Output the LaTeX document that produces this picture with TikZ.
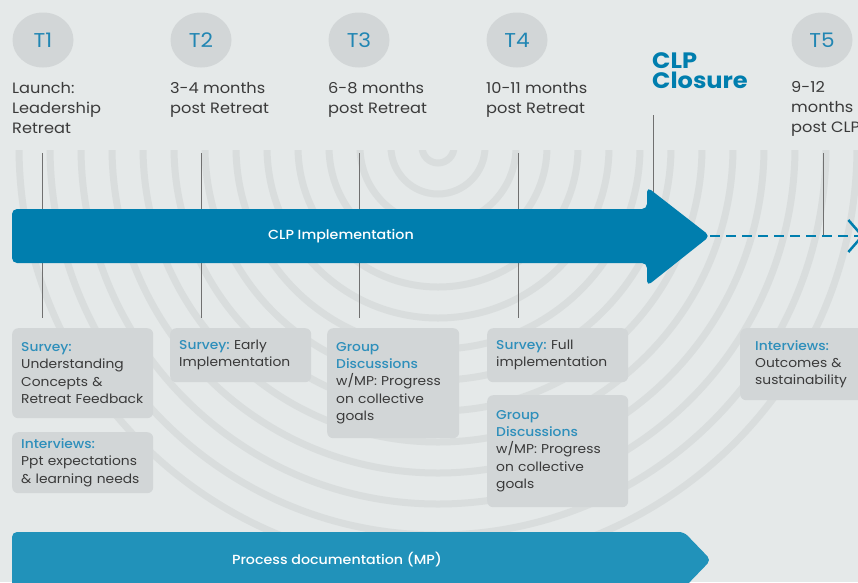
\documentclass[tikz,border=0pt]{standalone}
\usepackage{fontspec}
\setmainfont{Poppins}[FakeStretch=1.08]
\newfontfamily\popmed{Poppins Medium}[FakeStretch=1.08]
\usepackage{xcolor}
\usepackage{tikz}
\usetikzlibrary{positioning}
\usetikzlibrary{arrows.meta}
\usetikzlibrary{shapes.geometric}

\definecolor{bgc}{HTML}{E5E9E9}
\definecolor{ringc}{HTML}{D9DDDD}
\definecolor{circc}{HTML}{D2D6D7}
\definecolor{boxc}{HTML}{D2D6D7}
\definecolor{tblue}{HTML}{2186B3}
\definecolor{hblue}{HTML}{2E8FBB}
\definecolor{arrc}{HTML}{007EAE}
\definecolor{procc}{HTML}{2192BA}
\definecolor{txtc}{HTML}{3A3A3A}
\definecolor{tickc}{HTML}{707070}

\newcommand{\hd}[1]{{\popmed\color{hblue}#1}} % blue headings in the boxes
\frenchspacing

\begin{document}
\begin{tikzpicture}[x=1pt,y=-1pt]
  \tikzstyle{ring}=[draw=ringc, line width=7pt] % background ripples
  \tikzstyle{tcirc}=[ellipse, fill=circc, minimum width=61pt, minimum height=55pt, inner sep=0pt, text=tblue, font=\fontsize{20}{20}\selectfont]
  \tikzstyle{lbl}=[anchor=north west, inner sep=0pt, align=left, text=txtc, font=\fontsize{15}{20}\selectfont]
  \tikzstyle{box}=[anchor=north west, fill=boxc, rounded corners=6pt, inner xsep=9pt, inner ysep=0pt, align=left, text=txtc, font=\fontsize{12.8}{17.4}\selectfont]
  \tikzstyle{tick}=[draw=tickc, line width=1pt] % thin time marks
  \tikzstyle{bartxt}=[text=white, font=\popmed\fontsize{13.2}{14}\selectfont]
  \useasboundingbox (0,0) rectangle (858,582);
  \fill[bgc] (0,0) rectangle (858,582);
  \begin{scope}
    \clip (0,150) rectangle (858,582);
    \draw[ring] (438,147) circle (16pt) circle (47pt) circle (78pt) circle (109pt) circle (140pt)
      circle (171pt) circle (202pt) circle (233pt) circle (264pt) circle (295pt) circle (326pt)
      circle (357pt) circle (388pt) circle (419pt);
  \end{scope}
  % time points
  \node[tcirc] (t1) at (43,40) {T1};
  \node[tcirc] (t2) at (201,40) {T2};
  \node[tcirc] (t3) at (359,40) {T3};
  \node[tcirc] (t4) at (517,40) {T4};
  \node[tcirc] (t5) at (822,40) {T5};
  \node[lbl, below right=14pt and -31pt of t1.south] (l1) {Launch:\\Leadership\\Retreat};
  \node[lbl, below right=14pt and -31pt of t2.south] (l2) {3-4 months\\post Retreat};
  \node[lbl, below right=14pt and -31pt of t3.south] (l3) {6-8 months\\post Retreat};
  \node[lbl, below right=14pt and -31pt of t4.south] (l4) {10-11 months\\post Retreat};
  \node[lbl, below right=14pt and -31pt of t5.south] (l5) {9-12\\months\\post CLP};
  \node[lbl, text=arrc, font=\bfseries\fontsize{22.3}{20}\selectfont] (clp) at (652,52) {CLP\\Closure};
  % boxes
  \node[box, text width=123pt, minimum height=90pt] (s1) at (12,328) {\hd{Survey:}\\Understanding\\Concepts \&\\Retreat Feedback};
  \node[box, text width=123pt, minimum height=61pt] (i1) at (12,432) {\hd{Interviews:}\\Ppt expectations\\\& learning needs};
  \node[box, text width=123pt, minimum height=54pt] (s2) at (170,328) {\hd{Survey:} Early\\Implementation};
  \node[box, text width=114pt, minimum height=110pt] (g3) at (327,328) {\hd{Group\\Discussions}\\w/MP: Progress\\on collective\\goals};
  \node[box, text width=123pt, minimum height=54pt] (s4) at (487,328) {\hd{Survey:} Full\\implementation};
  \node[box, text width=123pt, minimum height=112pt] (g4) at (487,395) {\hd{Group\\Discussions}\\w/MP: Progress\\on collective\\goals};
  \node[box, text width=110pt, inner xsep=15pt, minimum height=72pt] (i5) at (740,328) {\hd{Interviews:}\\Outcomes \&\\sustainability};
  % marks down to the boxes
  \coordinate (k1) at (42,153);
  \coordinate (k2) at (201,153);
  \coordinate (k3) at (359,153);
  \coordinate (k4) at (518,153);
  \coordinate (k0) at (653,115);
  \coordinate (k5) at (823,153);
  \coordinate (impltip) at (710,236);
  \coordinate (dashend) at (864,236);
  \draw[tick, shorten >=10pt] (k1) -- (k1 |- s1.north);
  \draw[tick, shorten >=10pt] (k2) -- (k2 |- s2.north);
  \draw[tick, shorten >=10pt] (k3) -- (k3 |- g3.north);
  \draw[tick, shorten >=10pt] (k4) -- (k4 |- s4.north);
  \draw[tick] (k0) -- (k0 |- impltip);
  \draw[tick] (k5) -- (k5 |- impltip);
  % the two bars
  \fill[arrc, rounded corners=5pt] (12,209) -- (647,209) -- (647,187) -- (impltip) -- (647,286) -- (647,263) -- (12,263) -- cycle;
  \node[bartxt] (impl) at (341,236) {CLP Implementation};
  \draw[arrc, line width=2.5pt, dash pattern=on 10pt off 6pt, -{Straight Barb[length=14pt, width=32pt, line width=2.5pt]}] (impltip) -- (dashend);
  \fill[procc, rounded corners=5pt] (12,532) -- (684,532) -- (711,560) -- (684,588) -- (12,588) -- cycle;
  \node[bartxt] (proc) at (337,560) {Process documentation (MP)};
\end{tikzpicture}
\end{document}
